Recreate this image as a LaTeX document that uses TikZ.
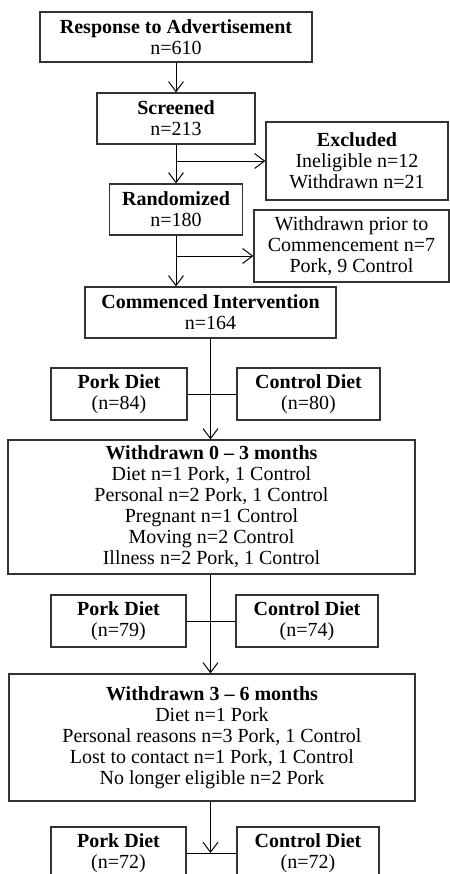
\documentclass[tikz,border=0pt]{standalone}
\usepackage{fontspec}
\setmainfont{Liberation Serif}
\usepackage{tikz}
\usetikzlibrary{positioning,arrows.meta}
\tikzset{
  flowarrow/.style={-{Straight Barb[length=5pt, width=7.5pt]}, line width=0.5pt},
  joinline/.style={line width=0.5pt},
  stagebox/.style={draw=black!80, line width=0.6pt, fill=white, align=center, inner sep=2pt},
  sidebox/.style={draw=black!80, line width=0.6pt, fill=white, align=center, inner sep=2pt},
  armbox/.style={draw=black!80, line width=0.6pt, fill=white, align=center, inner sep=2pt, minimum height=26pt}
}

\begin{document}
\begin{tikzpicture}[x=0.5pt, y=-0.5pt, every node/.style={font=\fontsize{10}{10.5}\selectfont}]
      \useasboundingbox (0,0) rectangle (450,874);
      % enrolment
      \node[stagebox, minimum width=136pt, minimum height=25pt] (resp) at (176,37) {\textbf{Response to Advertisement}\\n=610};
      \node[stagebox, minimum width=79pt, minimum height=25.5pt] (scr) at (176,118.5) {\textbf{Screened}\\n=213};
      \node[sidebox, minimum width=91pt, minimum height=39pt] (excl) at (357,161) {\textbf{Excluded}\\Ineligible n=12\\Withdrawn n=21};
      \node[stagebox, minimum width=66.5pt, minimum height=25.5pt] (rand) at (176,209.5) {\textbf{Randomized}\\n=180};
      \node[sidebox, minimum width=97.5pt, minimum height=36pt] (wpre) at (351.5,246) {Withdrawn prior to\\Commencement n=7\\Pork, 9 Control};
      \node[stagebox, minimum width=125.5pt, minimum height=25.5pt] (comm) at (210.5,312.5) {\textbf{Commenced Intervention}\\n=164};
      \coordinate (b1) at (176,256);
      \draw[flowarrow] (resp) -- (scr);
      \draw[flowarrow] (scr) -- (rand);
      \draw[flowarrow] (scr.south |- excl.west) -- (excl.west);
      \draw[flowarrow] (rand) -- (comm.north -| rand);
      \draw[flowarrow] (b1) -- (b1 -| wpre.west);
      % 0 - 3 months
      \node[armbox, minimum width=68pt] (pd1) at (119,394) {\textbf{Pork Diet}\\(n=84)};
      \node[armbox, minimum width=71.5pt] (cd1) at (308.5,394) {\textbf{Control Diet}\\(n=80)};
      \node[stagebox, minimum width=203.5pt, minimum height=67pt] (w03) at (211.5,507) {\textbf{Withdrawn 0 -- 3 months}\\Diet n=1 Pork, 1 Control\\Personal n=2 Pork, 1 Control\\Pregnant n=1 Control\\Moving n=2 Control\\Illness n=2 Pork, 1 Control};
      \draw[joinline] (pd1) -- (cd1);
      \draw[flowarrow] (comm.south) -- (comm.south |- w03.north);
      % 3 - 6 months
      \node[armbox, minimum width=67.5pt] (pd2) at (118.5,621) {\textbf{Pork Diet}\\(n=79)};
      \node[armbox, minimum width=71pt] (cd2) at (307,621) {\textbf{Control Diet}\\(n=74)};
      \node[stagebox, minimum width=203pt, minimum height=63.5pt] (w36) at (212,737.5) {\textbf{Withdrawn 3 -- 6 months}\\Diet n=1 Pork\\Personal reasons n=3 Pork, 1 Control\\Lost to contact n=1 Pork, 1 Control\\No longer eligible n=2 Pork};
      \draw[joinline] (pd2) -- (cd2);
      \draw[flowarrow] (w03.south -| comm.south) -- (w36.north -| comm.south);
      % end of study
      \node[armbox, minimum width=67.5pt] (pd3) at (118.5,853) {\textbf{Pork Diet}\\(n=72)};
      \node[armbox, minimum width=71pt] (cd3) at (308,853) {\textbf{Control Diet}\\(n=72)};
      \draw[joinline] (pd3) -- (cd3);
      \draw[flowarrow] (w36.south -| comm.south) -- (pd3 -| comm.south);
    \end{tikzpicture}
\end{document}
